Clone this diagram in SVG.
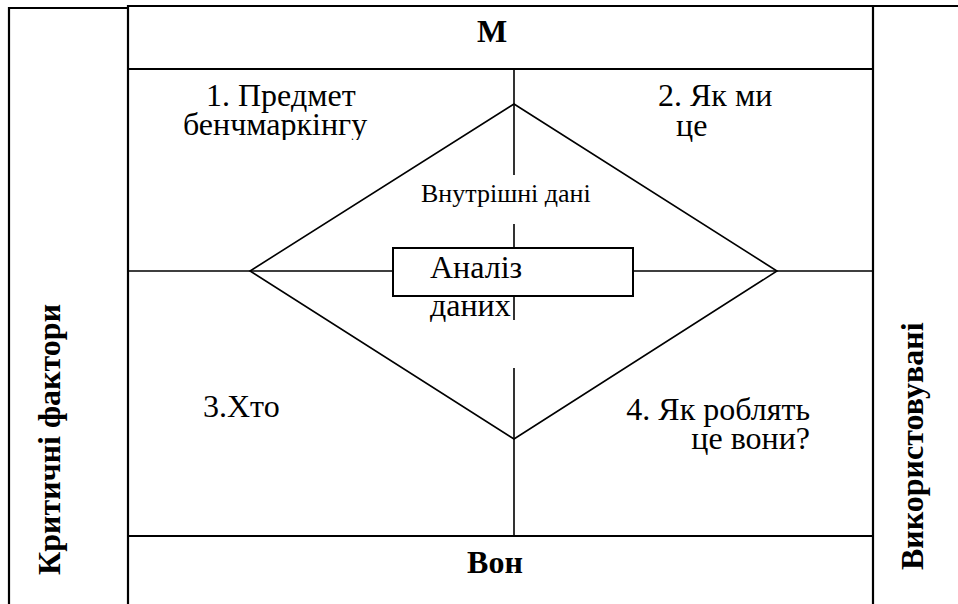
<svg xmlns="http://www.w3.org/2000/svg" width="958" height="604" viewBox="0 0 958 604">
<style>
.frame{fill:none;stroke:#000;stroke-width:2.2}
.thin{fill:none;stroke:#000;stroke-width:1.6}
</style>
<defs>
<clipPath id="clipQ1"><rect x="128" y="69" width="386" height="71"/></clipPath>
</defs>
<rect width="958" height="604" fill="#fff"/>
<g id="frame">
<path class="frame" d="M9,604 V8 H128"/>
<path class="frame" d="M128,604 V6 H958"/>
<path class="frame" d="M873,6 V604"/>
<path class="frame" d="M128,69 H873"/>
<path class="frame" d="M128,536 H873"/>
</g>
<g id="connectors">
<path class="thin" d="M514,69 V175 M514,224 V248 M514,296 V320 M514,368 V536"/>
<path class="thin" d="M128,271 H393 M633,271 H873"/>
</g>
<g id="diamond"><polygon class="thin" points="514,104 777,271 514,439 250,271"/></g>
<g font-family="Liberation Serif, Times New Roman, serif" fill="#000">
<g font-weight="bold" font-size="32">
<g id="header"><text x="492" y="42" text-anchor="middle">М</text></g>
<g id="footer"><text x="495" y="573" text-anchor="middle">Вон</text></g>
<g id="left-label"><text transform="translate(60,575) rotate(-90)">Критичні фактори</text></g>
<g id="right-label"><text transform="translate(923,570) rotate(-90)">Використовувані</text></g>
</g>
<g id="internal-data"><text x="421" y="202" font-size="26">Внутрішні дані</text></g>
<g font-size="32">
<g id="analysis-box">
<rect x="393" y="248" width="240" height="48" fill="#fff" stroke="#000" stroke-width="2"/>
<text x="430" y="278">Аналіз</text>
<text x="430" y="316">даних</text>
</g>
<g id="q1"><g clip-path="url(#clipQ1)">
<text x="206" y="106">1. Предмет</text>
<text x="183" y="135">бенчмаркінгу</text>
</g></g>
<g id="q2">
<text x="658" y="106">2. Як ми</text>
<text x="676" y="136">це</text>
</g>
<g id="q3"><text x="203" y="417">3.Хто</text></g>
<g id="q4">
<text x="810" y="420" text-anchor="end">4. Як роблять</text>
<text x="810" y="449" text-anchor="end">це вони?</text>
</g>
</g>
</g>
</svg>
